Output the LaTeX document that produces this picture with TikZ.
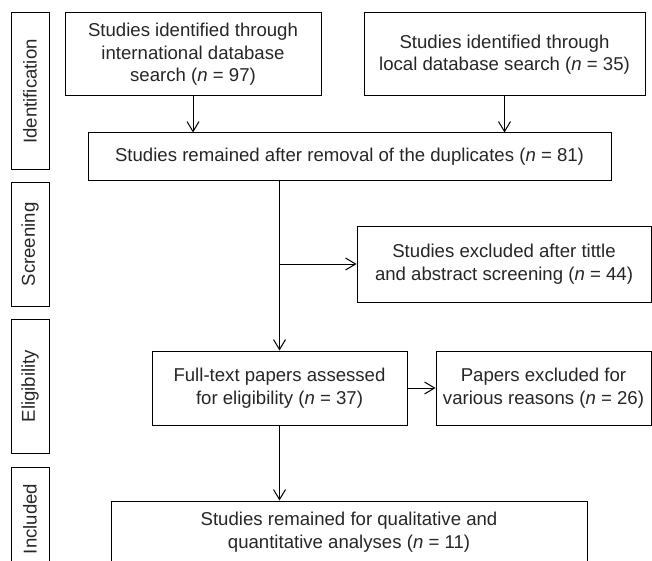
\documentclass[tikz,border=0pt]{standalone}
\usepackage{fontspec}
\setmainfont{Liberation Sans}
\usetikzlibrary{calc,arrows.meta}

\tikzset{
  txt/.style={font=\fontsize{9.3}{11.2}\selectfont, text=black!85},
  box/.style={txt, draw, line width=0.5pt, align=center, inner sep=0pt},
  stage/.style={txt, draw, line width=0.5pt, rotate=90, inner sep=0pt, minimum height=19pt},
  arr/.style={-{Straight Barb[length=5pt,width=6pt]}, line width=0.5pt}
}

\begin{document}
\begin{tikzpicture}[x=0.5pt,y=-0.5pt]
    \useasboundingbox (0,0) rectangle (652,561);
    % stages on the left
    \node[stage, minimum width=78.5pt] (ident)  at (30,91.5)  {Identification};
    \node[stage, minimum width=61.5pt] (screen) at (30,244.5) {Screening};
    \node[stage, minimum width=67pt]   (elig)   at (30,386)   {Eligibility};
    \node[stage, minimum width=52pt]   (incl)   at (30,519)   {Included};
    % boxes
    \node[box, minimum width=128pt,   minimum height=41.5pt] (intl)   at (193,54.5)  {Studies identified through\\international database\\search (\textit{n} = 97)};
    \node[box, minimum width=140.5pt, minimum height=41.5pt] (local)  at (504.5,54.5) {Studies identified through\\local database search (\textit{n} = 35)};
    \node[box, minimum width=261.5pt, minimum height=24pt]   (dup)    at (349.5,157) {Studies remained after removal of the duplicates (\textit{n} = 81)};
    \node[box, minimum width=147pt,   minimum height=38pt]   (excl)   at (504,264)   {Studies excluded after tittle\\and abstract screening (\textit{n} = 44)};
    \node[box, minimum width=127.5pt, minimum height=37pt]   (full)   at (279.5,388) {Full-text papers assessed\\for eligibility (\textit{n} = 37)};
    \node[box, minimum width=107.5pt, minimum height=37pt]   (papers) at (543.5,388) {Papers excluded for\\various reasons (\textit{n} = 26)};
    \node[box, minimum width=238pt,   minimum height=31pt]   (final)  at (349,532)   {Studies remained for qualitative and\\quantitative analyses (\textit{n} = 11)};
    % connectors
    \coordinate (split) at (full.north |- excl.west);
    \draw[arr] (intl.south) -- (intl.south |- dup.north);
    \draw[arr] (local.south) -- (local.south |- dup.north);
    \draw[arr] (full.north |- dup.south) -- (full.north);
    \draw[arr] (split) -- (excl.west);
    \draw[arr] (full.east) -- (papers.west);
    \draw[arr] (full.south) -- (full.south |- final.north);
\end{tikzpicture}
\end{document}
